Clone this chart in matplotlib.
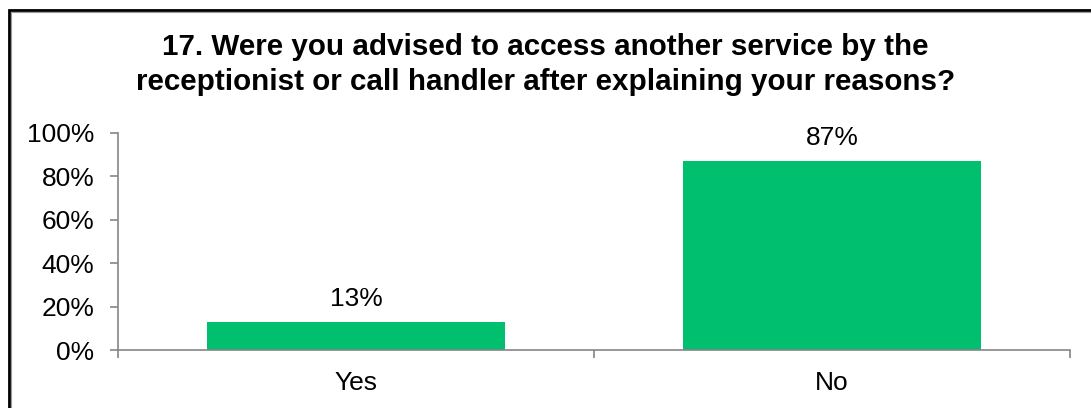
import matplotlib.pyplot as plt
from matplotlib.patches import Rectangle

categories = ['Yes', 'No']
shares = [0.13, 0.87]
bar_labels = ['13%', '87%']
yticks = [0, 0.2, 0.4, 0.6, 0.8, 1.0]
ytick_labels = ['0%', '20%', '40%', '60%', '80%', '100%']

title = ('17. Were you advised to access another service by the\n'
         'receptionist or call handler after explaining your reasons?')

plt.rcParams['font.family'] = ['Liberation Sans', 'DejaVu Sans']

W, H = 1091, 408
fig = plt.figure(figsize=(W / 100, H / 100), dpi=100)
ax = fig.add_axes([118 / W, (H - 350) / H, (1070 - 118) / W, 217 / H])

x = range(len(categories))
ax.bar(x, shares, width=0.625, color='#00BF6F', zorder=2)

fs = 19
for xi, v, lab in zip(x, shares, bar_labels):
    ax.annotate(lab, (xi, v), xytext=(0, 8), textcoords='offset points',
                ha='center', va='bottom', fontsize=fs)

ax.set_xlim(-0.5, 1.5)
ax.set_ylim(0, 1)
ax.set_yticks(yticks)
ax.set_yticklabels(ytick_labels, fontsize=fs)
ax.set_xticks(list(x))
ax.set_xticklabels(categories, fontsize=fs)
ax.set_xticks([-0.5, 0.5, 1.5], minor=True)

grey = '#868686'
for side in ['top', 'right']:
    ax.spines[side].set_visible(False)
for side in ['left', 'bottom']:
    ax.spines[side].set_color(grey)
    ax.spines[side].set_linewidth(1.2)

ax.tick_params(axis='y', length=6, width=1.2, color=grey, pad=11)
ax.tick_params(axis='x', which='major', length=0, pad=15)
ax.tick_params(axis='x', which='minor', length=6, width=1.2, color=grey)

fig.text(0.5, 1 - 64.5 / H, title, ha='center', va='center', fontsize=21.3,
         fontweight='bold', linespacing=1.28)

# outer frame of the chart area
fig.patches.append(Rectangle((9 / W, -0.1), 1.2, 1 - 10 / H + 0.1,
                             transform=fig.transFigure, fill=False,
                             edgecolor='black', linewidth=2))
fig.patches.append(Rectangle((10.5 / W, -0.1), 1.2, 1 - 11.5 / H + 0.1,
                             transform=fig.transFigure, fill=False,
                             edgecolor='#9a9a9a', linewidth=0.8))

fig.savefig('out.png', dpi=100)
